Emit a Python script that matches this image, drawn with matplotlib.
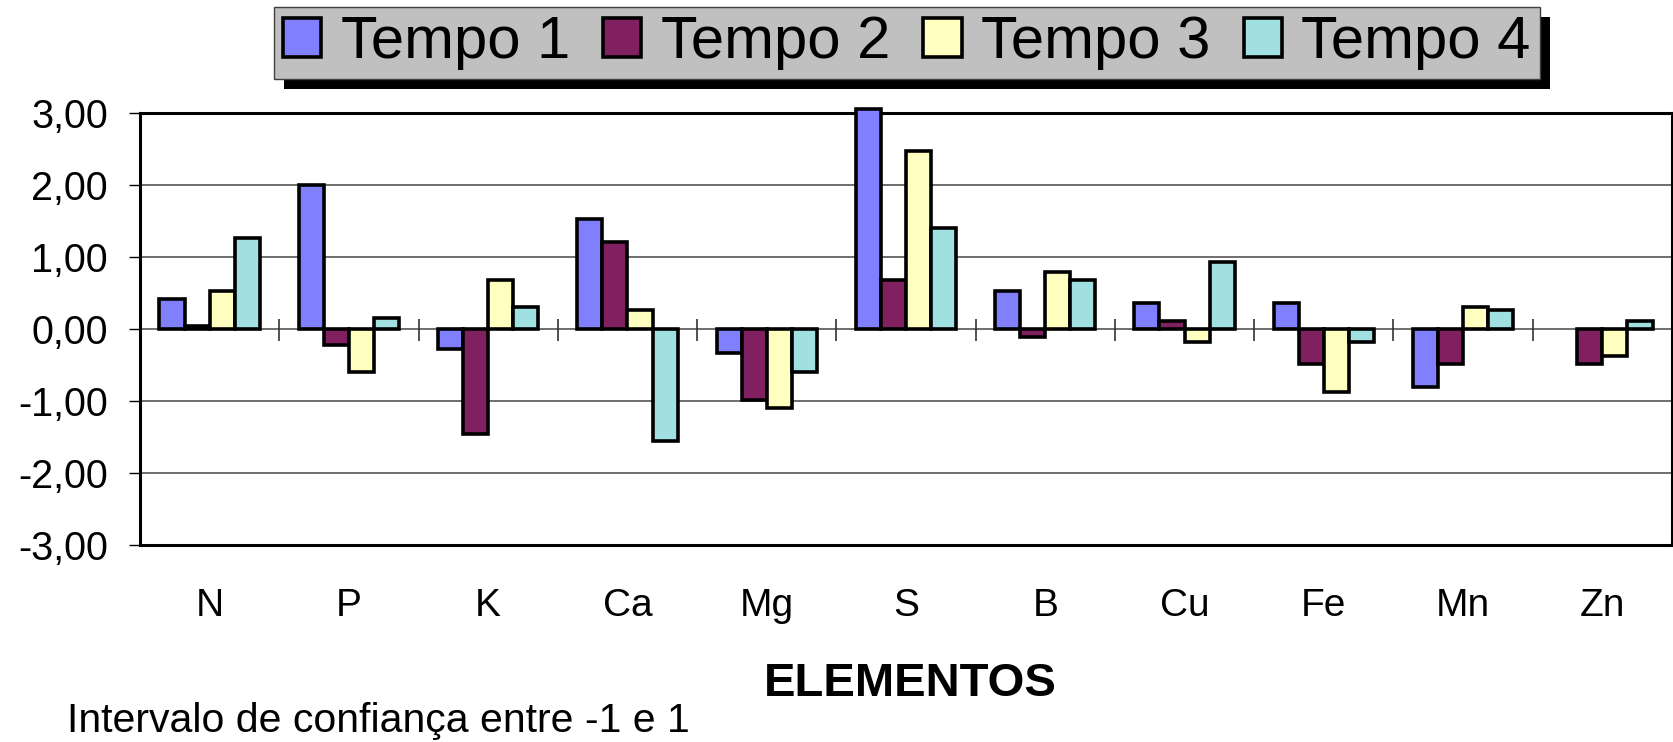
import matplotlib
matplotlib.use('Agg')
import matplotlib.pyplot as plt
import numpy as np
from matplotlib.patches import Rectangle

categories = ['N', 'P', 'K', 'Ca', 'Mg', 'S', 'B', 'Cu', 'Fe', 'Mn', 'Zn']
series_names = ['Tempo 1', 'Tempo 2', 'Tempo 3', 'Tempo 4']
tempo1 = [0.42, 2.00, -0.27, 1.53, -0.33, 3.06, 0.53, 0.37, 0.37, -0.81, 0.00]
tempo2 = [0.05, -0.22, -1.46, 1.21, -0.98, 0.68, -0.11, 0.11, -0.49, -0.49, -0.49]
tempo3 = [0.53, -0.60, 0.68, 0.26, -1.09, 2.48, 0.79, -0.18, -0.87, 0.31, -0.38]
tempo4 = [1.26, 0.16, 0.31, -1.56, -0.60, 1.41, 0.69, 0.94, -0.18, 0.26, 0.11]
yticks = [3, 2, 1, 0, -1, -2, -3]
ytick_labels = ['3,00', '2,00', '1,00', '0,00', '-1,00', '-2,00', '-3,00']
colors = ['#8080FF', '#802060', '#FFFFC0', '#A0E0E0']

plt.rcParams['font.family'] = ['Liberation Sans', 'DejaVu Sans']

W, H = 1674, 742
fig = plt.figure(figsize=(W / 100, H / 100), dpi=100)
left, right, top, bottom = 140, 1672, 113.3, 545
ax = fig.add_axes([left / W, 1 - bottom / H, (right - left) / W, (bottom - top) / H])

x = np.arange(len(categories))
bw = 0.18
all_series = [tempo1, tempo2, tempo3, tempo4]
handles = []
for k, vals in enumerate(all_series):
    b = ax.bar(x + (k - 1.5) * bw, vals, width=bw, color=colors[k],
               edgecolor='black', linewidth=2.6, zorder=3, label=series_names[k])
    for p, v in zip(b.patches, vals):
        p.set_clip_on(False)
        if v == 0:
            p.set_linewidth(0)
    handles.append(b)

ax.set_xlim(-0.5, len(categories) - 0.5)
ax.set_ylim(-3, 3)
ax.set_yticks(yticks)
ax.set_yticklabels(ytick_labels, fontsize=28.5)
ax.tick_params(axis='y', length=8, width=1, pad=15, direction='out')
ax.set_xticks(x)
ax.set_xticklabels(categories, fontsize=28)
ax.tick_params(axis='x', length=0, pad=31)

for yv in yticks:
    if yv not in (3, -3):
        ax.axhline(yv, color='#555555', linewidth=1.2, zorder=1)
# category separator ticks on the zero line
ax.vlines(x[:-1] + 0.5, -0.16, 0.14, color='#333333', linewidth=1.2, zorder=2)

for s in ax.spines.values():
    s.set_linewidth(2.2)
    s.set_color('black')
    s.set_zorder(2.5)

leg = fig.legend(handles=handles, labels=series_names, loc='center',
                 bbox_to_anchor=(907 / W, 1 - 43 / H), ncol=4, fontsize=43,
                 frameon=True, fancybox=False, shadow=False,
                 handlelength=0.64, handleheight=0.64, handletextpad=0.33,
                 columnspacing=0.55, borderpad=0.15, borderaxespad=0)
fr = leg.get_frame()
fr.set_facecolor('#C0C0C0')
fr.set_edgecolor('#404040')
fr.set_linewidth(1)
fr.set_alpha(1)
leg.set_zorder(10)

fig.canvas.draw()
bb = leg.get_window_extent()
off = 10
shadow = Rectangle((bb.x0 + off, bb.y0 - off), bb.width, bb.height,
                   transform=None, facecolor='black', edgecolor='none', zorder=9)
fig.add_artist(shadow)

fig.text(910 / W, 1 - 684 / H, 'ELEMENTOS', fontsize=34, fontweight='bold',
         ha='center', va='center')
fig.text(67 / W, 1 - 721 / H, 'Intervalo de confiança entre -1 e 1', fontsize=29.5,
         ha='left', va='center')

fig.savefig('out.png', dpi=100)
